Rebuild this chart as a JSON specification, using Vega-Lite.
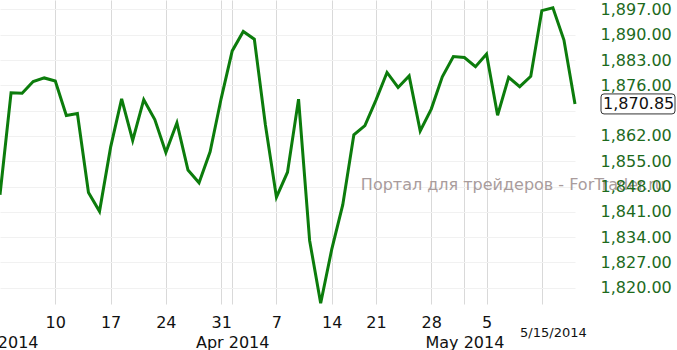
{
  "$schema": "https://vega.github.io/schema/vega-lite/v6.json",
  "width": 575,
  "height": 304,
  "autosize": {"type": "none"},
  "padding": {"left": 0, "top": 0, "right": 102, "bottom": 46},
  "background": "white",
  "config": {"view": {"stroke": null}, "font": "DejaVu Sans", "axis": {"labelOverlap": false}},
  "datasets": {
    "prices": [
      {"date": "2014-03-03", "close": 1845.73},
      {"date": "2014-03-04", "close": 1873.91},
      {"date": "2014-03-05", "close": 1873.81},
      {"date": "2014-03-06", "close": 1877.03},
      {"date": "2014-03-07", "close": 1878.04},
      {"date": "2014-03-10", "close": 1877.17},
      {"date": "2014-03-11", "close": 1867.63},
      {"date": "2014-03-12", "close": 1868.20},
      {"date": "2014-03-13", "close": 1846.34},
      {"date": "2014-03-14", "close": 1841.13},
      {"date": "2014-03-17", "close": 1858.83},
      {"date": "2014-03-18", "close": 1872.25},
      {"date": "2014-03-19", "close": 1860.77},
      {"date": "2014-03-20", "close": 1872.01},
      {"date": "2014-03-21", "close": 1866.52},
      {"date": "2014-03-24", "close": 1857.44},
      {"date": "2014-03-25", "close": 1865.62},
      {"date": "2014-03-26", "close": 1852.56},
      {"date": "2014-03-27", "close": 1849.04},
      {"date": "2014-03-28", "close": 1857.62},
      {"date": "2014-03-31", "close": 1872.34},
      {"date": "2014-04-01", "close": 1885.52},
      {"date": "2014-04-02", "close": 1890.90},
      {"date": "2014-04-03", "close": 1888.77},
      {"date": "2014-04-04", "close": 1865.09},
      {"date": "2014-04-07", "close": 1845.04},
      {"date": "2014-04-08", "close": 1851.96},
      {"date": "2014-04-09", "close": 1872.18},
      {"date": "2014-04-10", "close": 1833.08},
      {"date": "2014-04-11", "close": 1815.69},
      {"date": "2014-04-14", "close": 1830.61},
      {"date": "2014-04-15", "close": 1842.98},
      {"date": "2014-04-16", "close": 1862.31},
      {"date": "2014-04-17", "close": 1864.85},
      {"date": "2014-04-21", "close": 1871.89},
      {"date": "2014-04-22", "close": 1879.55},
      {"date": "2014-04-23", "close": 1875.39},
      {"date": "2014-04-24", "close": 1878.61},
      {"date": "2014-04-25", "close": 1863.40},
      {"date": "2014-04-28", "close": 1869.43},
      {"date": "2014-04-29", "close": 1878.33},
      {"date": "2014-04-30", "close": 1883.95},
      {"date": "2014-05-01", "close": 1883.68},
      {"date": "2014-05-02", "close": 1881.14},
      {"date": "2014-05-05", "close": 1884.66},
      {"date": "2014-05-06", "close": 1867.72},
      {"date": "2014-05-07", "close": 1878.21},
      {"date": "2014-05-08", "close": 1875.63},
      {"date": "2014-05-09", "close": 1878.48},
      {"date": "2014-05-12", "close": 1896.65},
      {"date": "2014-05-13", "close": 1897.45},
      {"date": "2014-05-14", "close": 1888.53},
      {"date": "2014-05-15", "close": 1870.85}
    ],
    "notes": [
      {"date": "2014-04-16", "value": 1848.4, "text": "Портал для трейдеров - ForTrader.ru"}
    ]
  },
  "resolve": {"axis": {"y": "independent"}},
  "layer": [
    {
      "data": {"name": "notes"},
      "mark": {"type": "text", "align": "left", "baseline": "middle", "dx": 7, "fontSize": 16, "color": "#a99c9c"},
      "encoding": {
        "x": {
          "field": "date",
          "type": "ordinal",
          "title": null,
          "scale": {"type": "point", "padding": 0},
          "axis": {
            "values": ["2014-03-03", "2014-03-10", "2014-03-17", "2014-03-24", "2014-03-31", "2014-04-01", "2014-04-07", "2014-04-14", "2014-04-21", "2014-04-28", "2014-05-01", "2014-05-05", "2014-05-12", "2014-05-13"],
            "labelExpr": "datum.value == '2014-03-03' ? ['', 'Mar 2014'] : datum.value == '2014-04-01' ? ['', 'Apr 2014'] : datum.value == '2014-05-01' ? ['', 'May 2014'] : datum.value == '2014-05-12' ? '' : datum.value == '2014-05-13' ? '5/15/2014' : '' + toNumber(substring(datum.value, 8, 10))",
            "ticks": false,
            "domain": false,
            "labelAngle": 0,
            "labelAlign": "center",
            "labelBaseline": "top",
            "labelPadding": {"condition": {"test": "datum.value == '2014-05-13'", "value": 22}, "value": 10},
            "labelFontSize": {"condition": {"test": "datum.value == '2014-05-13'", "value": 13}, "value": 16},
            "labelColor": "#111111",
            "labelLineHeight": 20,
            "labelOverlap": false,
            "labelBound": false,
            "labelFlush": false,
            "grid": true,
            "gridColor": "#d9d9d9",
            "gridWidth": 1,
            "gridOpacity": {"condition": {"test": "datum.value == '2014-03-03' || datum.value == '2014-05-13'", "value": 0}, "value": 1}
          }
        },
        "y": {
          "field": "value",
          "type": "quantitative",
          "title": null,
          "scale": {"domain": [1815.5, 1899.6], "nice": false, "zero": false},
          "axis": {
            "orient": "left",
            "values": [1820, 1827, 1834, 1841, 1848, 1855, 1862, 1869, 1876, 1883, 1890, 1897],
            "tickCount": 30,
            "labels": false,
            "ticks": false,
            "domain": false,
            "grid": true,
            "gridColor": "#f1f1f1",
            "zindex": 0
          }
        },
        "text": {"field": "text"}
      }
    },
    {
      "data": {"name": "prices"},
      "mark": {"type": "line", "color": "#0c7c0c", "strokeWidth": 3},
      "encoding": {
        "x": {"field": "date", "type": "ordinal", "title": null},
        "y": {
          "field": "close",
          "type": "quantitative",
          "title": null,
          "axis": {
            "orient": "right",
            "values": [1820, 1827, 1834, 1841, 1848, 1855, 1862, 1876, 1883, 1890, 1897],
            "tickCount": 30,
            "format": ",.2f",
            "ticks": false,
            "domain": false,
            "grid": false,
            "labelAlign": "left",
            "labelBaseline": "middle",
            "labelPadding": 25,
            "labelFontSize": 16,
            "labelColor": "#1d6a1d",
            "labelOverlap": false,
            "labelFlush": false,
            "zindex": 1
          }
        }
      }
    },
    {
      "data": {"name": "prices"},
      "transform": [{"filter": "datum.date == '2014-05-15'"}],
      "mark": {"type": "point", "shape": "M2.9,-1H9.7Q10,-1,10,-0.7V0.7Q10,1,9.7,1H2.9Q2.6,1,2.6,0.7V-0.7Q2.6,-1,2.9,-1Z", "size": 400, "filled": true, "fill": "white", "stroke": "#333333", "strokeWidth": 1, "opacity": 1},
      "encoding": {
        "x": {"field": "date", "type": "ordinal", "title": null},
        "y": {"field": "close", "type": "quantitative", "title": null, "axis": null}
      }
    },
    {
      "data": {"name": "prices"},
      "transform": [{"filter": "datum.date == '2014-05-15'"}],
      "mark": {"type": "text", "align": "left", "baseline": "middle", "dx": 28, "fontSize": 16, "color": "#111111"},
      "encoding": {
        "x": {"field": "date", "type": "ordinal", "title": null},
        "y": {"field": "close", "type": "quantitative", "title": null, "axis": null},
        "text": {"field": "close", "type": "quantitative", "format": ",.2f"}
      }
    }
  ]
}
